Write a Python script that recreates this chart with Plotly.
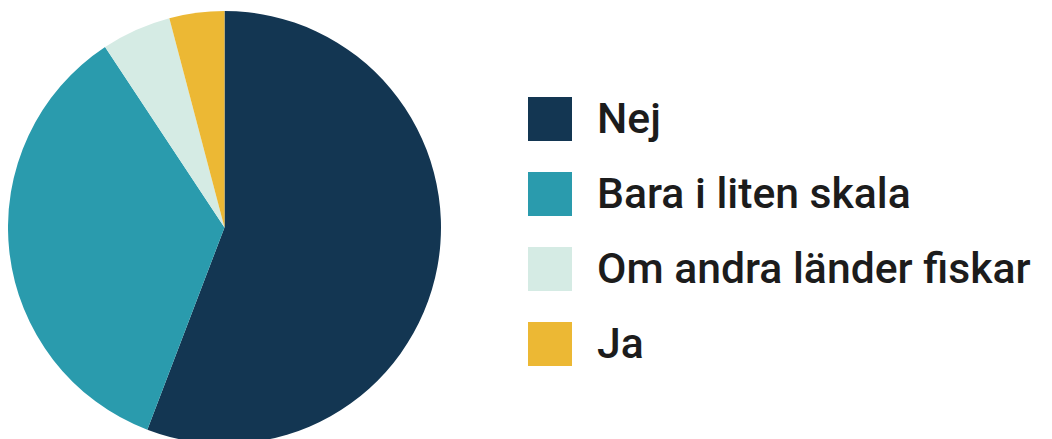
import plotly.graph_objects as go

# survey answers, share in percent
categories = ["Nej", "Bara i liten skala", "Om andra länder fiskar", "Ja"]
shares = [55.8, 34.9, 5.2, 4.1]
colors = ["#133652", "#2a9bad", "#d5ebe4", "#ecb834"]

W, H = 1052, 439
OFF = 8  # page body margin shifts the figure by this much

fig = go.Figure()

fig.add_trace(go.Pie(
    labels=categories,
    values=shares,
    sort=False,
    direction="clockwise",
    rotation=0,
    marker=dict(colors=colors, line=dict(width=0)),
    textinfo="none",
    hoverinfo="label+percent",
    showlegend=False,
    domain=dict(x=[0, 433 / W], y=[0, 1]),
))

# legend drawn by hand, the built-in one can't do big swatches
box = 44
top = 97 - OFF
step = 75
left = 528 - OFF
for i, (cat, col) in enumerate(zip(categories, colors)):
    y0 = top + i * step
    fig.add_shape(
        type="rect", xref="paper", yref="paper",
        x0=left / W, x1=(left + box) / W,
        y0=1 - (y0 + box) / H, y1=1 - y0 / H,
        fillcolor=col, line=dict(width=0),
    )
    fig.add_annotation(
        x=(595 - OFF) / W, y=1 - (y0 + box / 2 - 1) / H,
        xref="paper", yref="paper",
        xanchor="left", yanchor="middle",
        text=cat, showarrow=False,
        font=dict(family="Roboto", size=42.7, weight=500, color="#1c1c1c"),
    )

fig.update_layout(
    width=W, height=H,
    margin=dict(l=0, r=0, t=0, b=0),
    paper_bgcolor="white",
    plot_bgcolor="white",
)

fig.write_html("out.html")
